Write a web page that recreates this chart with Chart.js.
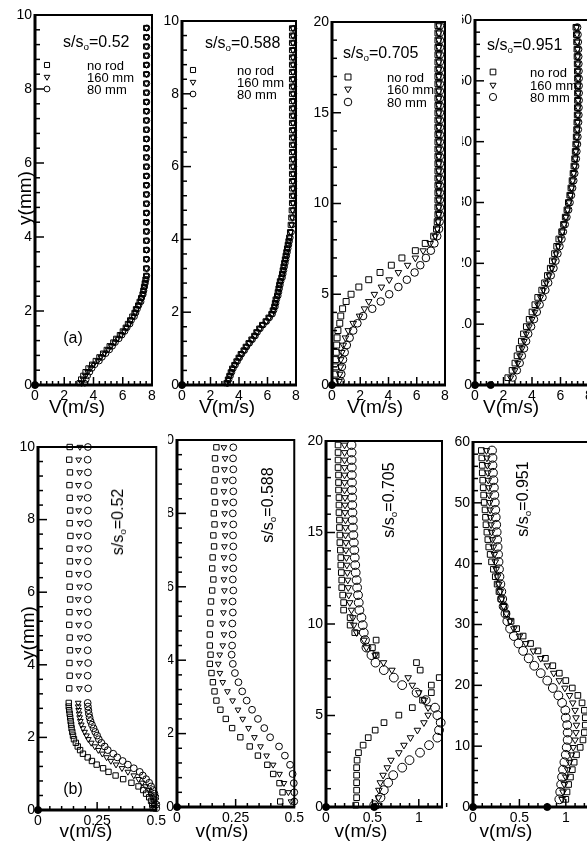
<!DOCTYPE html>
<html lang="en">
<head>
<meta charset="utf-8">
<title>Velocity profiles</title>
<script src="https://cdn.jsdelivr.net/npm/chart.js@4.4.1/dist/chart.umd.min.js"></script>
<style>
  html, body { margin: 0; padding: 0; background: #fff; }
  #fig { position: relative; width: 587px; height: 843px; overflow: hidden; font-family: 'Liberation Sans', Arial, sans-serif; color: #000; }
  #plots canvas { position: absolute; }
  .t { position: absolute; white-space: nowrap; line-height: 1; }
  .ctr { transform: translate(-50%, -50%); }
  .rot { transform: translate(-50%, -50%) rotate(-90deg); }
  .ann { font-size: 16px; }
  .leg { font-size: 13px; }
  .ax { font-size: 19px; }
  .mask { position: absolute; background: #fff; }
  sub { font-size: 0.62em; vertical-align: -0.35em; line-height: 0; }
</style>
</head>
<body>
<div id="fig">
  <div id="plots"></div>

  <!-- neighbour panels hide part of the next panel's tick labels -->
  <div class="mask" style="left:447px;top:8px;width:15px;height:370px"></div>
  <div class="mask" style="left:159px;top:432px;width:9px;height:370px"></div>

  <!-- top row -->
  <div class="t ann" style="left:63px;top:34px">s/s<sub>o</sub>=0.52</div>
  <div class="t leg" style="left:87px;top:59px">no rod</div>
  <div class="t leg" style="left:87px;top:71px">160 mm</div>
  <div class="t leg" style="left:87px;top:83px">80 mm</div>

  <div class="t ann" style="left:205px;top:35px">s/s<sub>o</sub>=0.588</div>
  <div class="t leg" style="left:237px;top:64px">no rod</div>
  <div class="t leg" style="left:237px;top:76px">160 mm</div>
  <div class="t leg" style="left:237px;top:88px">80 mm</div>

  <div class="t ann" style="left:343px;top:45px">s/s<sub>o</sub>=0.705</div>
  <div class="t leg" style="left:387px;top:71px">no rod</div>
  <div class="t leg" style="left:387px;top:83px">160 mm</div>
  <div class="t leg" style="left:387px;top:96px">80 mm</div>

  <div class="t ann" style="left:487px;top:37px">s/s<sub>o</sub>=0.951</div>
  <div class="t leg" style="left:530px;top:66px">no rod</div>
  <div class="t leg" style="left:530px;top:79px">160 mm</div>
  <div class="t leg" style="left:530px;top:91px">80 mm</div>

  <div class="t ann ctr" style="left:73px;top:338px">(a)</div>
  <div class="t ax rot" style="left:24px;top:198px">y(mm)</div>
  <div class="t ax ctr" style="left:77px;top:406px">V(m/s)</div>
  <div class="t ax ctr" style="left:227px;top:406px">V(m/s)</div>
  <div class="t ax ctr" style="left:375px;top:406px">V(m/s)</div>
  <div class="t ax ctr" style="left:511px;top:406px">V(m/s)</div>

  <!-- bottom row -->
  <div class="t ann rot" style="left:118px;top:522px">s/s<sub>o</sub>=0.52</div>
  <div class="t ann rot" style="left:268px;top:505px">s/s<sub>o</sub>=0.588</div>
  <div class="t ann rot" style="left:389px;top:500px">s/s<sub>o</sub>=0.705</div>
  <div class="t ann rot" style="left:523px;top:499px">s/s<sub>o</sub>=0.951</div>

  <div class="t ann ctr" style="left:73px;top:789px">(b)</div>
  <div class="t ax rot" style="left:27px;top:633px">y(mm)</div>
  <div class="t ax ctr" style="left:86px;top:830px">v(m/s)</div>
  <div class="t ax ctr" style="left:222px;top:830px">v(m/s)</div>
  <div class="t ax ctr" style="left:361px;top:830px">v(m/s)</div>
  <div class="t ax ctr" style="left:506px;top:830px">v(m/s)</div>
</div>

<script>
/* ── Tick values ── */
const ticksV8   = [0, 2, 4, 6, 8];
const ticksV05  = [0, 0.25, 0.5];
const ticksV125 = [0, 0.5, 1];
const ticksY10  = [0, 2, 4, 6, 8, 10];
const ticksY20  = [0, 5, 10, 15, 20];
const ticksY60  = [0, 10, 20, 30, 40, 50, 60];

/* ── Wall points (filled dots on the axis) ── */
const originX = [0], originY = [0];
const dWallX = [0, 1.1],  dWallY = [0, 0];
const gWallX = [0, 0.52], gWallY = [0, 0];
const hWallX = [0, 0.8],  hWallY = [0, 0];

/* ── (a) streamwise V, s/so = 0.52 ── */
const aY   = [0.05,0.15,0.25,0.35,0.45,0.55,0.65,0.75,0.85,0.95,1.05,1.15,1.25,1.35,1.45,1.55,1.65,1.75,1.85,1.95,2.05,2.15,2.25,2.35,2.45,2.55,2.65,2.75,2.85,2.95,
              3.15,3.4,3.65,3.9,4.15,4.4,4.65,4.9,5.15,5.4,5.65,5.9,6.15,6.4,6.65,6.9,7.15,7.4,7.65,7.9,8.15,8.4,8.65,8.9,9.15,9.4,9.65];
const aSq  = [3.05,3.15,3.3,3.45,3.65,3.9,4.15,4.4,4.65,4.9,5.1,5.35,5.55,5.8,6.0,6.2,6.35,6.5,6.65,6.8,6.9,7.05,7.15,7.25,7.35,7.4,7.45,7.5,7.55,7.6,
              7.6,7.6,7.6,7.6,7.6,7.6,7.6,7.6,7.6,7.6,7.6,7.6,7.6,7.6,7.6,7.6,7.6,7.6,7.6,7.6,7.6,7.6,7.6,7.6,7.6,7.6,7.6];
const aTri = [3.2,3.3,3.45,3.6,3.8,4.0,4.3,4.5,4.75,5.0,5.2,5.45,5.65,5.9,6.1,6.25,6.45,6.55,6.75,6.85,6.95,7.1,7.2,7.3,7.4,7.45,7.5,7.55,7.6,7.62,
              7.62,7.62,7.62,7.62,7.62,7.62,7.62,7.62,7.62,7.62,7.62,7.62,7.62,7.62,7.62,7.62,7.62,7.62,7.62,7.62,7.62,7.62,7.62,7.62,7.62,7.62,7.62];
const aCir = [3.4,3.5,3.6,3.75,3.9,4.1,4.4,4.6,4.85,5.1,5.3,5.5,5.75,5.95,6.15,6.3,6.5,6.6,6.8,6.9,7.0,7.1,7.25,7.3,7.4,7.45,7.5,7.55,7.6,7.65,
              7.65,7.65,7.65,7.65,7.65,7.65,7.65,7.65,7.65,7.65,7.65,7.65,7.65,7.65,7.65,7.65,7.65,7.65,7.65,7.65,7.65,7.65,7.65,7.65,7.65,7.65,7.65];

/* ── s/so = 0.588 ── */
const bY   = [0.05,0.15,0.25,0.35,0.45,0.55,0.65,0.75,0.85,0.95,1.05,1.15,1.25,1.35,1.45,1.55,1.65,1.75,1.85,1.95,2.05,2.15,2.25,2.35,2.45,2.55,2.65,2.75,2.85,2.95,
              3.05,3.15,3.25,3.35,3.45,3.55,3.65,3.75,3.85,3.95,4.05,
              4.2,4.4,4.6,4.8,5.0,5.2,5.4,5.6,5.8,6.0,6.2,6.4,6.6,6.8,7.0,7.2,7.4,7.6,7.8,8.0,8.2,8.4,8.6,8.8,9.0,9.2,9.4,9.6,9.8];
const bSq  = [3.12,3.22,3.32,3.42,3.52,3.67,3.82,3.97,4.12,4.32,4.47,4.67,4.87,5.07,5.22,5.42,5.62,5.87,6.07,6.27,6.37,6.47,6.52,6.57,6.67,6.72,6.77,6.82,6.87,6.97,
              7.02,7.07,7.12,7.17,7.22,7.27,7.32,7.37,7.42,7.47,7.52,
              7.58,7.63,7.67,7.7,7.72,7.72,7.72,7.72,7.72,7.72,7.72,7.72,7.72,7.72,7.72,7.72,7.72,7.72,7.72,7.72,7.72,7.72,7.72,7.72,7.72,7.72,7.72,7.72,7.72];
const bTri = [3.16,3.26,3.36,3.46,3.56,3.71,3.86,4.01,4.16,4.36,4.51,4.71,4.91,5.11,5.26,5.46,5.66,5.91,6.11,6.31,6.41,6.51,6.56,6.61,6.71,6.76,6.81,6.86,6.91,7.01,
              7.06,7.11,7.16,7.21,7.26,7.31,7.36,7.41,7.46,7.51,7.56,
              7.63,7.69,7.74,7.76,7.78,7.78,7.78,7.78,7.78,7.78,7.78,7.78,7.78,7.78,7.78,7.78,7.78,7.78,7.78,7.78,7.78,7.78,7.78,7.78,7.78,7.78,7.78,7.78,7.78];
const bCir = [3.2,3.3,3.4,3.5,3.6,3.75,3.9,4.05,4.2,4.4,4.55,4.75,4.95,5.15,5.3,5.5,5.7,5.95,6.15,6.35,6.45,6.55,6.6,6.65,6.75,6.8,6.85,6.9,6.95,7.05,
              7.1,7.15,7.2,7.25,7.3,7.35,7.4,7.45,7.5,7.55,7.6,
              7.68,7.74,7.79,7.83,7.85,7.85,7.85,7.85,7.85,7.85,7.85,7.85,7.85,7.85,7.85,7.85,7.85,7.85,7.85,7.85,7.85,7.85,7.85,7.85,7.85,7.85,7.85,7.85,7.85];

/* ── s/so = 0.705 ── */
const cY   = [0.2,0.6,1.0,1.4,1.8,2.2,2.6,3.0,3.4,3.8,4.2,4.6,5.0,5.4,5.8,6.2,6.6,7.0,7.4,7.8,8.2,8.6,9.0,9.4,9.8,
              10.2,10.6,11.0,11.4,11.8,12.2,12.6,13.0,13.4,13.8,14.2,14.6,15.0,15.4,15.8,16.2,16.6,17.0,17.4,17.8,18.2,18.6,19.0,19.4,19.8];
const cSq  = [0.2,0.22,0.25,0.27,0.3,0.33,0.36,0.42,0.55,0.62,0.75,1.0,1.35,1.9,2.6,3.4,4.2,4.95,5.9,6.6,7.2,7.4,7.45,7.5,7.5,
              7.5,7.5,7.5,7.5,7.5,7.5,7.5,7.5,7.5,7.5,7.5,7.5,7.5,7.5,7.5,7.5,7.5,7.5,7.5,7.5,7.5,7.5,7.5,7.5,7.5];
const cTri = [0.5,0.55,0.6,0.62,0.7,0.8,0.95,1.15,1.5,1.95,2.3,2.6,3.0,3.5,4.05,4.7,5.35,5.9,6.45,6.95,7.3,7.45,7.52,7.56,7.57,
              7.57,7.57,7.57,7.57,7.57,7.57,7.57,7.57,7.57,7.57,7.57,7.57,7.57,7.57,7.57,7.57,7.57,7.57,7.57,7.57,7.57,7.57,7.57,7.57,7.57];
const cCir = [0.62,0.66,0.7,0.78,0.9,1.05,1.25,1.5,1.8,2.2,2.85,3.45,4.05,4.7,5.3,5.85,6.25,6.65,7.0,7.25,7.45,7.58,7.62,7.64,7.64,
              7.64,7.64,7.64,7.64,7.64,7.64,7.64,7.64,7.64,7.64,7.64,7.64,7.64,7.64,7.64,7.64,7.64,7.64,7.64,7.64,7.64,7.64,7.64,7.64,7.64];

/* ── s/so = 0.951 ── */
const dY   = [1.2,2.4,3.6,4.8,6.0,7.2,8.4,9.6,10.8,12.0,13.2,14.4,15.6,16.8,18.0,19.2,20.4,21.6,22.8,24.0,25.2,26.4,27.6,28.8,30.0,
              31.2,32.4,33.6,34.8,36.0,37.2,38.4,39.6,40.8,42.0,43.2,44.4,45.6,46.8,48.0,49.2,50.4,51.6,52.8,54.0,55.2,56.4,57.6,58.8];
const dSq  = [2.3,2.6,2.8,2.95,3.1,3.25,3.4,3.6,3.8,4.0,4.2,4.4,4.68,4.88,5.08,5.28,5.43,5.58,5.73,5.88,6.08,6.21,6.33,6.45,6.55,
              6.65,6.73,6.81,6.88,6.94,6.99,7.03,7.07,7.1,7.13,7.15,7.17,7.18,7.19,7.19,7.19,7.19,7.18,7.17,7.16,7.15,7.13,7.11,7.08];
const dTri = [2.5,2.8,3.0,3.15,3.3,3.45,3.6,3.8,4.0,4.2,4.4,4.6,4.8,5.0,5.2,5.4,5.55,5.7,5.85,6.0,6.13,6.26,6.38,6.5,6.6,
              6.7,6.78,6.86,6.93,6.99,7.04,7.08,7.12,7.15,7.18,7.2,7.22,7.23,7.24,7.24,7.24,7.24,7.23,7.22,7.21,7.2,7.18,7.16,7.13];
const dCir = [2.65,2.95,3.15,3.3,3.45,3.6,3.75,3.95,4.15,4.35,4.55,4.75,4.95,5.15,5.33,5.52,5.66,5.8,5.94,6.08,6.18,6.31,6.43,6.55,6.65,
              6.75,6.83,6.91,6.98,7.04,7.09,7.13,7.17,7.2,7.23,7.25,7.27,7.28,7.29,7.29,7.29,7.29,7.28,7.27,7.26,7.25,7.23,7.21,7.18];

/* ── (b) normal v, s/so = 0.52 ── */
const eY   = [0.05,0.15,0.25,0.35,0.45,0.55,0.65,0.75,0.85,0.95,1.05,1.15,1.25,1.35,1.45,1.55,1.65,1.75,1.85,1.95,2.05,2.15,2.25,2.35,2.45,2.55,2.65,2.75,2.85,2.95,
              3.35,3.7,4.05,4.4,4.75,5.1,5.45,5.8,6.15,6.5,6.85,7.2,7.55,7.9,8.25,8.6,8.95,9.3,9.65,10.0];
const eSq  = [0.485,0.483,0.478,0.47,0.457,0.445,0.425,0.395,0.36,0.328,0.298,0.275,0.248,0.228,0.21,0.19,0.178,0.168,0.16,0.152,0.148,0.145,0.142,0.14,0.138,0.136,0.134,0.132,0.13,0.13,
              0.132,0.134,0.133,0.135,0.134,0.132,0.133,0.136,0.134,0.132,0.135,0.133,0.137,0.134,0.136,0.134,0.133,0.135,0.132,0.134];
const eTri = [0.49,0.488,0.487,0.482,0.476,0.47,0.455,0.44,0.425,0.405,0.38,0.355,0.33,0.308,0.29,0.272,0.255,0.24,0.225,0.213,0.205,0.197,0.19,0.183,0.179,0.176,0.174,0.172,0.17,0.17,
              0.175,0.172,0.176,0.17,0.178,0.172,0.175,0.17,0.176,0.172,0.17,0.176,0.173,0.178,0.172,0.177,0.171,0.176,0.172,0.177];
const eCir = [0.5,0.5,0.5,0.497,0.492,0.485,0.478,0.47,0.457,0.443,0.43,0.405,0.38,0.358,0.335,0.318,0.295,0.282,0.268,0.257,0.25,0.242,0.235,0.228,0.222,0.218,0.215,0.213,0.211,0.21,
              0.212,0.21,0.212,0.21,0.211,0.212,0.21,0.211,0.212,0.21,0.211,0.212,0.21,0.212,0.211,0.21,0.212,0.211,0.21,0.211];

/* ── s/so = 0.588 ── */
const fY   = [0.15,0.4,0.65,0.9,1.15,1.4,1.65,1.9,2.15,2.4,2.65,2.9,3.15,3.4,3.65,3.9,4.15,
              4.4,4.7,5.0,5.3,5.6,5.9,6.2,6.5,6.8,7.1,7.4,7.7,8.0,8.3,8.6,8.9,9.2,9.5,9.8];
const fSq  = [0.44,0.45,0.437,0.41,0.385,0.345,0.31,0.27,0.235,0.208,0.185,0.168,0.16,0.153,0.147,0.14,0.143,
              0.14,0.14,0.142,0.14,0.145,0.15,0.155,0.15,0.152,0.158,0.155,0.16,0.157,0.162,0.158,0.16,0.165,0.162,0.168];
const fTri = [0.486,0.475,0.456,0.437,0.41,0.382,0.356,0.33,0.305,0.28,0.26,0.237,0.215,0.195,0.183,0.176,0.182,
              0.195,0.2,0.195,0.198,0.2,0.202,0.2,0.205,0.2,0.202,0.205,0.2,0.203,0.205,0.2,0.205,0.202,0.205,0.2];
const fCir = [0.5,0.5,0.498,0.493,0.482,0.46,0.435,0.397,0.372,0.345,0.32,0.297,0.278,0.262,0.247,0.238,0.233,
              0.235,0.237,0.236,0.238,0.237,0.24,0.238,0.24,0.238,0.24,0.239,0.24,0.238,0.24,0.24,0.238,0.24,0.239,0.24];

/* ── s/so = 0.705 ── */
const gY   = [0.1,0.51,0.92,1.33,1.74,2.15,2.56,2.97,3.38,3.79,4.2,4.61,5.02,5.43,5.84,6.25,6.66,7.07,7.48,7.89,8.3,8.71,9.12,9.53,9.94,
              10.35,10.76,11.17,11.58,11.99,12.4,12.81,13.22,13.63,14.04,14.45,14.86,15.27,15.68,16.09,16.5,16.91,17.32,17.73,18.14,18.55,18.96,19.37,19.78];
const gSq  = [0.32,0.33,0.33,0.33,0.33,0.33,0.335,0.35,0.4,0.455,0.53,0.625,0.785,0.93,1.04,1.135,1.135,1.22,1.015,0.975,0.54,0.5,0.54,0.31,0.26,
              0.26,0.19,0.19,0.18,0.17,0.17,0.165,0.16,0.16,0.155,0.15,0.15,0.145,0.145,0.14,0.14,0.14,0.135,0.135,0.135,0.13,0.13,0.13,0.13];
const gTri = [0.56,0.565,0.57,0.585,0.615,0.66,0.7,0.785,0.84,0.91,0.985,1.055,1.1,1.1,1.06,1.0,0.93,0.885,0.71,0.62,0.53,0.435,0.41,0.33,0.3,
              0.29,0.274,0.256,0.245,0.24,0.235,0.23,0.225,0.22,0.215,0.215,0.21,0.21,0.21,0.205,0.205,0.205,0.2,0.2,0.2,0.2,0.2,0.2,0.2];
const gCir = [0.52,0.587,0.623,0.67,0.724,0.821,0.9,1.013,1.11,1.2,1.218,1.236,1.2,1.175,1.074,0.976,0.821,0.731,0.623,0.533,0.49,0.436,0.42,0.407,0.396,
              0.382,0.36,0.353,0.345,0.335,0.33,0.32,0.315,0.31,0.305,0.3,0.295,0.29,0.288,0.285,0.283,0.282,0.28,0.28,0.278,0.278,0.276,0.276,0.275];

/* ── s/so = 0.951 ── */
const hY   = [1.26,2.48,3.7,4.92,6.14,7.36,8.58,9.8,11.02,12.24,13.46,14.68,15.9,17.12,18.34,19.56,20.78,22.0,23.22,24.44,25.66,26.88,28.1,29.32,
              30.54,31.76,32.98,34.2,35.42,36.64,37.86,39.08,40.3,41.52,42.74,43.96,45.18,46.4,47.62,48.84,50.06,51.28,52.5,53.72,54.94,56.16,57.38,58.6];
const hSq  = [1.0,1.013,1.03,1.05,1.07,1.09,1.115,1.155,1.185,1.2,1.21,1.21,1.2,1.175,1.13,1.07,1.0,0.93,0.86,0.78,0.7,0.62,0.54,0.47,
              0.41,0.36,0.33,0.3,0.28,0.26,0.24,0.22,0.2,0.185,0.17,0.16,0.15,0.14,0.135,0.13,0.12,0.115,0.11,0.105,0.1,0.1,0.095,0.09];
const hTri = [0.96,0.97,0.985,1.0,1.02,1.04,1.06,1.08,1.1,1.11,1.115,1.11,1.1,1.075,1.04,0.99,0.93,0.87,0.8,0.73,0.65,0.57,0.5,0.44,
              0.4,0.36,0.33,0.31,0.295,0.28,0.265,0.25,0.24,0.23,0.22,0.21,0.2,0.195,0.19,0.185,0.18,0.175,0.17,0.165,0.16,0.155,0.15,0.145];
const hCir = [0.93,0.94,0.95,0.96,0.97,0.985,1.0,1.01,1.02,1.02,1.015,1.0,0.995,0.96,0.92,0.86,0.8,0.73,0.66,0.6,0.54,0.49,0.44,0.4,
              0.37,0.35,0.33,0.315,0.305,0.295,0.285,0.28,0.275,0.27,0.265,0.26,0.255,0.25,0.245,0.24,0.235,0.23,0.225,0.22,0.215,0.21,0.21,0.205];

/* ── Panels: plot box [left, top, right, bottom] in page px ── */
const panels = [
  { y: aY, sq: aSq, tri: aTri, cir: aCir, wx: originX, wy: originY, box: [35, 15, 152, 385],  xr: [0, 8],    yr: [0, 10], xt: ticksV8,   yt: ticksY10, xm: [0.4, 2],    ym: [0.4, 2], r: [3.6, 3.3, 2.9], leg: { dx: 12, dy: [50, 62, 74] } },
  { y: bY, sq: bSq, tri: bTri, cir: bCir, wx: originX, wy: originY, box: [182, 21, 296, 385], xr: [0, 8],    yr: [0, 10], xt: ticksV8,   yt: ticksY10, xm: [0.4, 2],    ym: [0.4, 2], r: [3.6, 3.3, 2.9], leg: { dx: 11, dy: [49, 61, 73] } },
  { y: cY, sq: cSq, tri: cTri, cir: cCir, wx: originX, wy: originY, box: [332, 22, 445, 385], xr: [0, 8],    yr: [0, 20], xt: ticksV8,   yt: ticksY20, xm: [0.4, 2],    ym: [1, 5],   r: [4.2, 3.8, 3.8], leg: { dx: 16, dy: [55, 67, 80] } },
  { y: dY, sq: dSq, tri: dTri, cir: dCir, wx: dWallX,  wy: dWallY,  box: [475, 20, 589, 385], xr: [0, 8],    yr: [0, 60], xt: ticksV8,   yt: ticksY60, xm: [0.4, 2],    ym: [2, 10],  r: [4.0, 3.5, 3.6], leg: { dx: 18, dy: [52, 65, 77] } },
  { y: eY, sq: eSq, tri: eTri, cir: eCir, wx: originX, wy: originY, box: [38, 447, 157, 810], xr: [0, 0.5],  yr: [0, 10], xt: ticksV05,  yt: ticksY10, xm: [0.05, 0.25], ym: [0.4, 2], r: [3.8, 3.3, 3.4] },
  { y: fY, sq: fSq, tri: fTri, cir: fCir, wx: originX, wy: originY, box: [177, 440, 295, 807], xr: [0, 0.5], yr: [0, 10], xt: ticksV05,  yt: ticksY10, xm: [0.05, 0.25], ym: [0.4, 2], r: [3.8, 3.3, 3.4] },
  { y: gY, sq: gSq, tri: gTri, cir: gCir, wx: gWallX,  wy: gWallY,  box: [326, 441, 442, 807], xr: [0, 1.25], yr: [0, 20], xt: ticksV125, yt: ticksY20, xm: [0.1, 0.5],  ym: [1, 5],   r: [4.0, 3.8, 4.4] },
  { y: hY, sq: hSq, tri: hTri, cir: hCir, wx: hWallX,  wy: hWallY,  box: [473, 442, 589, 807], xr: [0, 1.25], yr: [0, 60], xt: ticksV125, yt: ticksY60, xm: [0.1, 0.5],  ym: [2, 10],  r: [4.0, 3.8, 4.4] }
];

const FONT = "'Liberation Sans', Arial, sans-serif";
Chart.defaults.font.family = FONT;

/* ── Marker outline, same geometry as Chart.js point styles ── */
function mark(ctx, style, x, y, r) {
  ctx.beginPath();
  if (style === 'rect') { const s = r * Math.SQRT1_2; ctx.rect(x - s, y - s, 2 * s, 2 * s); }
  else if (style === 'tri') { ctx.moveTo(x - r * 0.866, y - r * 0.5); ctx.lineTo(x + r * 0.866, y - r * 0.5); ctx.lineTo(x, y + r); ctx.closePath(); }
  else ctx.arc(x, y, r, 0, Math.PI * 2);
  ctx.stroke();
}

function eachTick(scale, minor, major, fn) {
  const n = Math.round((scale.max - scale.min) / minor);
  for (let i = 0; i <= n; i++) {
    const v = scale.min + i * minor;
    fn(scale.getPixelForValue(v), Math.abs(v / major - Math.round(v / major)) < 1e-6);
  }
}

/* ── Frame with inward ticks, plus the little symbol key ── */
const axesPlugin = {
  id: 'axes',
  afterDatasetsDraw(chart, args, o) {
    const { ctx, chartArea: a, scales: { x, y } } = chart;
    ctx.save();
    ctx.strokeStyle = '#000';
    ctx.lineWidth = 1.5;
    eachTick(x, o.xm[0], o.xm[1], (p, big) => { ctx.beginPath(); ctx.moveTo(p, a.bottom); ctx.lineTo(p, a.bottom - (big ? 8 : 4)); ctx.stroke(); });
    eachTick(y, o.ym[0], o.ym[1], (p, big) => { ctx.beginPath(); ctx.moveTo(a.left, p); ctx.lineTo(a.left + (big ? 9 : 5), p); ctx.stroke(); });
    ctx.lineWidth = 2;
    ctx.beginPath();
    ctx.moveTo(a.left, a.top); ctx.lineTo(a.right, a.top); ctx.lineTo(a.right, a.bottom);
    ctx.stroke();
    ctx.lineWidth = 3;
    ctx.beginPath();
    ctx.moveTo(a.left, a.top - 1); ctx.lineTo(a.left, a.bottom); ctx.lineTo(a.right + 1, a.bottom);
    ctx.stroke();
    if (o.leg) {
      ctx.lineWidth = 1;
      ['rect', 'tri', 'circ'].forEach((s, i) => mark(ctx, s, a.left + o.leg.dx, a.top + o.leg.dy[i], o.r[i]));
    }
    ctx.restore();
  }
};

function makePanel(p) {
  const yW = 40, xH = 30, padT = 12, padR = 12;
  const [l, t, r, b] = p.box;
  const w = r - l + yW + padR, h = b - t + padT + xH;
  const cv = document.createElement('canvas');
  cv.width = w; cv.height = h;
  Object.assign(cv.style, { left: (l - yW) + 'px', top: (t - padT) + 'px', width: w + 'px', height: h + 'px' });
  document.getElementById('plots').appendChild(cv);

  const series = [['rect', 0, p.sq, p.r[0]], ['triangle', 180, p.tri, p.r[1]], ['circle', 0, p.cir, p.r[2]]];
  const datasets = series.map(([style, rot, xs, rad]) => ({
    data: xs.map((x, i) => ({ x, y: p.y[i] })),
    pointStyle: style, pointRotation: rot, pointRadius: rad, pointHoverRadius: rad,
    pointBorderColor: '#000', pointBackgroundColor: 'rgba(0,0,0,0)', pointBorderWidth: 1,
    clip: false
  }));
  datasets.push({
    data: p.wx.map((x, i) => ({ x, y: p.wy[i] })),
    pointStyle: 'circle', pointRadius: 3.5, pointBorderColor: '#000', pointBackgroundColor: '#000', clip: false
  });

  const tickFont = { family: FONT, size: 14 };
  new Chart(cv, {
    type: 'scatter',
    data: { datasets },
    options: {
      responsive: false, animation: false, devicePixelRatio: 1,
      layout: { padding: { top: padT, right: padR, left: 0, bottom: 0 } },
      plugins: { legend: { display: false }, tooltip: { enabled: false }, axes: { xm: p.xm, ym: p.ym, leg: p.leg, r: p.r } },
      scales: {
        x: {
          type: 'linear', min: p.xr[0], max: p.xr[1],
          grid: { display: false, drawTicks: false }, border: { display: false },
          afterBuildTicks: s => { s.ticks = p.xt.map(v => ({ value: v })); },
          afterFit: s => { s.height = xH; },
          ticks: { padding: 3, color: '#000', font: tickFont, maxRotation: 0, autoSkip: false, callback: v => String(+(+v).toFixed(4)) }
        },
        y: {
          type: 'linear', min: p.yr[0], max: p.yr[1],
          grid: { display: false, drawTicks: false }, border: { display: false },
          afterBuildTicks: s => { s.ticks = p.yt.map(v => ({ value: v })); },
          afterFit: s => { s.width = yW; },
          ticks: { padding: 3, color: '#000', font: tickFont, autoSkip: false, callback: v => String(+(+v).toFixed(4)) }
        }
      }
    },
    plugins: [axesPlugin]
  });
}

panels.forEach(makePanel);
</script>
</body>
</html>
